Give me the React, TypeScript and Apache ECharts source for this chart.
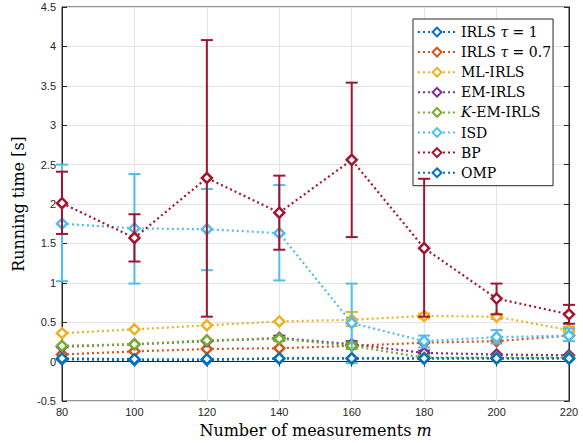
import React, { useEffect, useRef } from "react";
import * as echarts from "echarts";

const xValues = [80, 100, 120, 140, 160, 180, 200, 220];
const seriesNames = ["IRLS τ = 1", "IRLS τ = 0.7", "ML-IRLS", "EM-IRLS", "K-EM-IRLS", "ISD", "BP", "OMP"];
const colors = ["#0072BD", "#D95319", "#EDB120", "#7E2F8E", "#77AC30", "#4DBEEE", "#A2142F", "#0072BD"];

const irls1 = [0.03, 0.02, 0.02, 0.04, 0.04, 0.04, 0.04, 0.04];
const irls07 = [0.09, 0.13, 0.16, 0.17, 0.2, 0.24, 0.26, 0.33];
const mlIrls = [0.36, 0.41, 0.46, 0.51, 0.53, 0.58, 0.57, 0.4];
const emIrls = [0.19, 0.22, 0.26, 0.3, 0.22, 0.11, 0.09, 0.08];
const kEmIrls = [0.2, 0.22, 0.27, 0.29, 0.2, 0.05, 0.05, 0.05];
const isd = [1.75, 1.69, 1.68, 1.63, 0.49, 0.26, 0.31, 0.33];
const bp = [2.01, 1.57, 2.33, 1.89, 2.56, 1.44, 0.8, 0.6];
const omp = [0.04, 0.03, 0.03, 0.04, 0.04, 0.04, 0.04, 0.04];

// error bars: [low, high] or null
const mlIrlsErr = [null, null, null, null, [0.45, 0.63], [0.55, 0.61], [0.54, 0.6], [0.37, 0.44]];
const emIrlsErr = [null, null, null, [0.27, 0.33], [0.19, 0.26], [0.07, 0.14], null, null];
const kEmIrlsErr = [null, null, null, [0.26, 0.31], [0.16, 0.24], [0.03, 0.08], null, null];
const isdErr = [[1.02, 2.5], [0.99, 2.38], [1.16, 2.19], [1.03, 2.24], [-0.02, 0.99], [0.18, 0.33], [0.23, 0.4], [0.26, 0.42]];
const bpErr = [[1.62, 2.41], [1.27, 1.87], [0.57, 4.08], [1.42, 2.36], [1.58, 3.54], [0.57, 2.32], [0.6, 0.99], [0.48, 0.72]];

const yTicks = { min: -0.5, max: 4.5, interval: 0.5 };

const allValues = [irls1, irls07, mlIrls, emIrls, kEmIrls, isd, bp, omp];
const allErrs: any[] = [null, null, mlIrlsErr, emIrlsErr, kEmIrlsErr, isdErr, bpErr, null];

export default function App() {
  const ref = useRef<HTMLDivElement>(null);
  useEffect(() => {
    const chart = echarts.init(ref.current!, null, { renderer: "svg" });
    const series: any[] = [];
    allValues.forEach((vals, i) => {
      const errs = allErrs[i];
      if (errs) {
        const color = colors[i];
        series.push({
          type: "custom",
          name: seriesNames[i] + "-err",
          z: 2 + i,
          encode: { x: 0, y: [1, 2] },
          data: xValues.map((x, k) => (errs[k] ? [x, errs[k][0], errs[k][1]] : null)).filter((d) => d),
          renderItem: (params: any, api: any) => {
            const x = api.value(0);
            const p1 = api.coord([x, api.value(1)]);
            const p2 = api.coord([x, api.value(2)]);
            const w = 6;
            const st = { stroke: color, lineWidth: 2 };
            return {
              type: "group",
              children: [
                { type: "line", shape: { x1: p1[0], y1: p1[1], x2: p2[0], y2: p2[1] }, style: st },
                { type: "line", shape: { x1: p1[0] - w, y1: p1[1], x2: p1[0] + w, y2: p1[1] }, style: st },
                { type: "line", shape: { x1: p2[0] - w, y1: p2[1], x2: p2[0] + w, y2: p2[1] }, style: st },
              ],
            };
          },
        });
      }
      series.push({
        type: "line",
        name: seriesNames[i],
        z: 2 + i,
        data: xValues.map((x, k) => [x, vals[k]]),
        symbol: "diamond",
        symbolSize: 10,
        showAllSymbol: true,
        itemStyle: { color: "#ffffff", borderColor: colors[i], borderWidth: 2.5 },
        lineStyle: { color: colors[i], width: 2.2, type: [2, 3] },
        color: colors[i],
      });
    });

    const serif = "DejaVu Serif";
    const richAxis = {
      n: { fontFamily: serif, fontSize: 16, color: "#000" },
      i: { fontFamily: serif, fontSize: 16, color: "#000", fontStyle: "italic" },
    };
    const richLegend = {
      n: { fontFamily: serif, fontSize: 14, lineHeight: 14, color: "#000" },
      i: { fontFamily: serif, fontSize: 14, lineHeight: 14, color: "#000", fontStyle: "italic" },
    };
    chart.setOption({
      animation: false,
      backgroundColor: "#ffffff",
      grid: { left: 62, right: 14, top: 7, bottom: 34, show: true, borderColor: "#262626", borderWidth: 1 },
      legend: {
        data: seriesNames,
        orient: "vertical",
        left: 413,
        top: 19,
        padding: [6, 2, 6, 4],
        itemGap: 6.1,
        itemWidth: 38,
        itemHeight: 11,
        backgroundColor: "#ffffff",
        borderColor: "#262626",
        borderWidth: 1,
        textStyle: { fontFamily: serif, fontSize: 14, lineHeight: 14, color: "#000", rich: richLegend },
        formatter: (name: string) => {
          if (name.startsWith("IRLS τ")) return "{n|IRLS }{i|τ}{n|" + name.slice(6) + "}";
          if (name.startsWith("K-")) return "{i|K}{n|" + name.slice(1) + "}";
          return "{n|" + name + "}";
        },
      },
      xAxis: [
        {
          type: "value",
          min: 80,
          max: 220,
          interval: 20,
          position: "bottom",
          name: "{n|Number of measurements }{i|m}",
          nameLocation: "middle",
          nameGap: 21,
          nameTextStyle: { rich: richAxis },
          axisLine: { show: true, lineStyle: { color: "#262626" } },
          axisTick: { show: true, inside: true, length: 5, lineStyle: { color: "#262626" } },
          axisLabel: { fontFamily: "Liberation Sans", fontSize: 11, color: "#262626", margin: 5 },
          splitLine: { show: true, lineStyle: { color: "#e3e3e3", width: 1 } },
        },
        {
          type: "value",
          min: 80,
          max: 220,
          interval: 20,
          position: "top",
          axisLine: { show: true, lineStyle: { color: "#262626" } },
          axisTick: { show: true, inside: true, length: 5, lineStyle: { color: "#262626" } },
          axisLabel: { show: false },
          splitLine: { show: false },
        },
      ],
      yAxis: [
        {
          type: "value",
          ...yTicks,
          position: "left",
          name: "Running time [s]",
          nameLocation: "middle",
          nameGap: 34,
          nameTextStyle: { fontFamily: serif, fontSize: 16, color: "#000" },
          axisLine: { show: true, lineStyle: { color: "#262626" } },
          axisTick: { show: true, inside: true, length: 5, lineStyle: { color: "#262626" } },
          axisLabel: { fontFamily: "Liberation Sans", fontSize: 11, color: "#262626", margin: 6 },
          splitLine: { show: true, lineStyle: { color: "#e3e3e3", width: 1 } },
        },
        {
          type: "value",
          ...yTicks,
          position: "right",
          axisLine: { show: true, lineStyle: { color: "#262626" } },
          axisTick: { show: true, inside: true, length: 5, lineStyle: { color: "#262626" } },
          axisLabel: { show: false },
          splitLine: { show: false },
        },
      ],
      series,
    });
    return () => chart.dispose();
  }, []);
  return <div ref={ref} style={{ width: 583, height: 443, position: "absolute", left: 0, top: 0 }} />;
}
